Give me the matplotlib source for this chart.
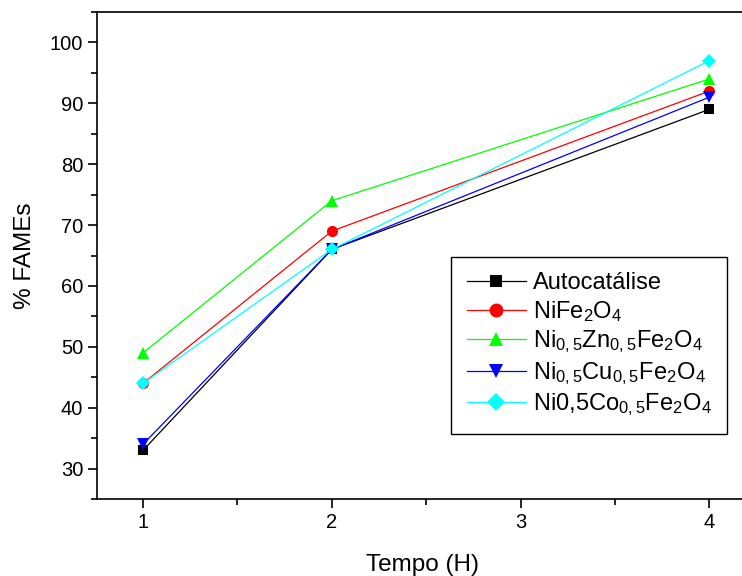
import matplotlib
matplotlib.use('Agg')
from matplotlib import pyplot as plt
from matplotlib.ticker import MultipleLocator

plt.rcParams['font.family'] = ['Liberation Sans', 'DejaVu Sans']
plt.rcParams['mathtext.fontset'] = 'custom'
plt.rcParams['mathtext.rm'] = 'Liberation Sans'
plt.rcParams['mathtext.it'] = 'Liberation Sans'

# Data
tempo = [1, 2, 4]
autocatalise = [33, 66, 89]
nife = [44, 69, 92]
nizn = [49, 74, 94]
nicu = [34, 66, 91]
nico = [44, 66, 97]

labels = ['Autocatálise',
          r'NiFe$_\mathregular{2}$O$_\mathregular{4}$',
          r'Ni$_\mathregular{0,5}$Zn$_\mathregular{0,5}$Fe$_\mathregular{2}$O$_\mathregular{4}$',
          r'Ni$_\mathregular{0,5}$Cu$_\mathregular{0,5}$Fe$_\mathregular{2}$O$_\mathregular{4}$',
          r'Ni0,5Co$_\mathregular{0,5}$Fe$_\mathregular{2}$O$_\mathregular{4}$']
series = [autocatalise, nife, nizn, nicu, nico]
colors = ['black', 'red', '#00ff00', 'blue', 'cyan']
markers = ['s', 'o', '^', 'v', 'D']
msizes = [7, 8, 8, 8, 7]

fig = plt.figure(figsize=(7.42, 5.76), dpi=100)
ax = fig.add_axes([97/742, (576-499)/576, 650/742, (499-12)/576])

for y, c, m, ms, lab in zip(series, colors, markers, msizes, labels):
    ax.plot(tempo, y, color=c, marker=m, markersize=ms, linewidth=0.9,
            markeredgewidth=0, label=lab)

ax.set_xlim(0.756, 4.2)
ax.set_ylim(25, 105)
ax.xaxis.set_major_locator(MultipleLocator(1))
ax.xaxis.set_minor_locator(MultipleLocator(0.5))
ax.yaxis.set_minor_locator(MultipleLocator(5))
ax.set_yticks(range(30, 101, 10))
ax.tick_params(which='both', direction='out', top=False, right=False, labelsize=14.5, width=1.2)
ax.tick_params(which='major', length=6.5)
ax.tick_params(which='minor', length=4.5)
for s in ax.spines.values():
    s.set_linewidth(1.2)

ax.set_xlabel('Tempo (H)', fontsize=17.5, labelpad=16)
ax.set_ylabel('% FAMEs', fontsize=17.5, labelpad=10)

leg = ax.legend(loc='upper left', bbox_to_anchor=(0.545, 0.497), fontsize=17,
                frameon=True, fancybox=False, edgecolor='black', framealpha=1,
                handlelength=2.5, markerscale=1.25, borderpad=0.65,
                labelspacing=0.2, handletextpad=0.3, borderaxespad=0)
leg.get_frame().set_linewidth(1.0)

fig.savefig('out.png', dpi=100)
